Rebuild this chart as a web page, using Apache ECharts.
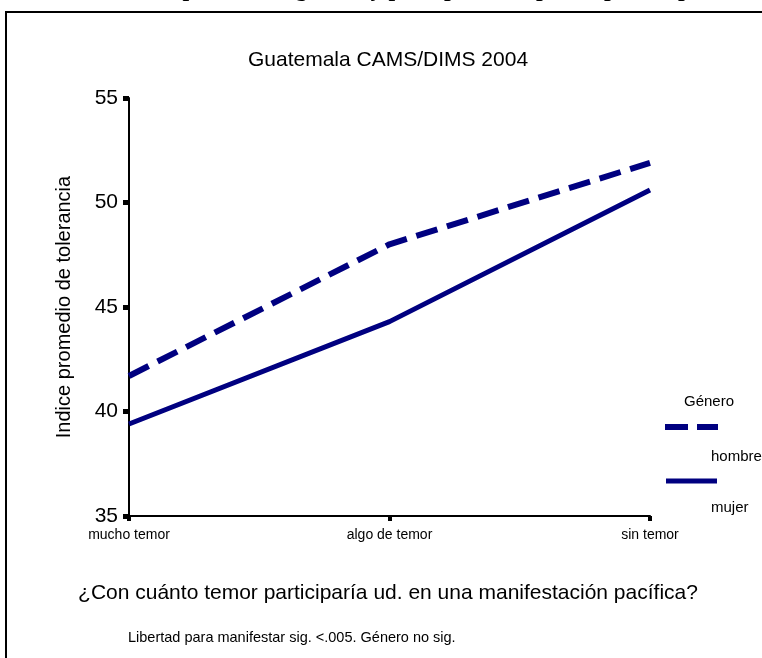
<!DOCTYPE html>
<html>
<head>
<meta charset="utf-8">
<script src="https://cdn.jsdelivr.net/npm/echarts@6/dist/echarts.min.js"></script>
<style>
  html, body { margin: 0; padding: 0; background: #ffffff; }
  #chart { width: 762px; height: 658px; }
</style>
</head>
<body>
<div id="chart"></div>
<script>
// categorias del eje x
const categories = ['mucho temor', 'algo de temor', 'sin temor']
// indice promedio de tolerancia por genero
const hombre = [41.7, 48.0, 51.9]
const mujer = [39.4, 44.3, 50.6]
const yTicks = { min: 35, max: 55, interval: 5 }

const navy = '#000080'
const sans = 'Liberation Sans, Arial, sans-serif'
const narrow = 'Liberation Sans Narrow, Liberation Sans, Arial, sans-serif'

const chart = echarts.init(document.getElementById('chart'))
chart.setOption({
  backgroundColor: '#ffffff',
  animation: false,
  grid: {
    left: 129,
    right: 112,
    top: 98,
    bottom: 142
  },
  xAxis: {
    type: 'category',
    boundaryGap: false,
    data: categories,
    axisLine: { lineStyle: { color: '#000', width: 2 } },
    axisTick: { length: 5, lineStyle: { color: '#000', width: 4 } },
    axisLabel: {
      color: '#000',
      fontFamily: narrow,
      fontSize: 14,
      margin: 12
    },
    splitLine: { show: false }
  },
  yAxis: {
    type: 'value',
    min: yTicks.min,
    max: yTicks.max,
    interval: yTicks.interval,
    name: 'Indice promedio de tolerancia',
    nameLocation: 'middle',
    nameGap: 55,
    nameTextStyle: { color: '#000', fontFamily: sans, fontSize: 20 },
    axisLine: { show: true, lineStyle: { color: '#000', width: 2 } },
    axisTick: { show: true, length: 6, lineStyle: { color: '#000', width: 5 } },
    axisLabel: {
      color: '#000',
      fontFamily: sans,
      fontSize: 21,
      margin: 11
    },
    splitLine: { show: false }
  },
  series: [
    {
      name: 'hombre',
      type: 'line',
      data: hombre,
      symbol: 'none',
      lineStyle: { color: navy, width: 6, type: [22, 10], cap: 'butt' }
    },
    {
      name: 'mujer',
      type: 'line',
      data: mujer,
      symbol: 'none',
      lineStyle: { color: navy, width: 5, type: 'solid' }
    }
  ],
  graphic: [
    // titulo cortado arriba
    {
      type: 'text',
      x: 68,
      y: 2,
      style: {
        text: 'Tolerancia por temor, género y percepción de participación pacífica',
        fill: '#000',
        font: 'bold 24px "Liberation Serif", "Times New Roman", serif',
        textVerticalAlign: 'bottom'
      }
    },
    // marco
    {
      type: 'rect',
      shape: { x: 6, y: 12, width: 800, height: 700 },
      style: { fill: 'none', stroke: '#000', lineWidth: 2 }
    },
    {
      type: 'text',
      x: 388,
      y: 60,
      style: {
        text: 'Guatemala CAMS/DIMS 2004',
        fill: '#000',
        font: '21px ' + sans,
        textAlign: 'center',
        textVerticalAlign: 'middle'
      }
    },
    // leyenda
    {
      type: 'text',
      x: 684,
      y: 402,
      style: { text: 'Género', fill: '#000', font: '15px ' + narrow, textVerticalAlign: 'middle' }
    },
    {
      type: 'line',
      shape: { x1: 665, y1: 427, x2: 718, y2: 427 },
      style: { stroke: navy, lineWidth: 6, lineDash: [23, 9] }
    },
    {
      type: 'text',
      x: 711,
      y: 457,
      style: { text: 'hombre', fill: '#000', font: '15px ' + narrow, textVerticalAlign: 'middle' }
    },
    {
      type: 'line',
      shape: { x1: 666, y1: 481, x2: 717, y2: 481 },
      style: { stroke: navy, lineWidth: 5 }
    },
    {
      type: 'text',
      x: 711,
      y: 508,
      style: { text: 'mujer', fill: '#000', font: '15px ' + narrow, textVerticalAlign: 'middle' }
    },
    // textos de abajo
    {
      type: 'text',
      x: 388,
      y: 593,
      style: {
        text: '¿Con cuánto temor participaría ud. en una manifestación pacífica?',
        fill: '#000',
        font: '21px ' + sans,
        textAlign: 'center',
        textVerticalAlign: 'middle'
      }
    },
    {
      type: 'text',
      x: 128,
      y: 638,
      style: {
        text: 'Libertad para manifestar sig. <.005. Género no sig.',
        fill: '#000',
        font: '14.5px ' + narrow,
        textVerticalAlign: 'middle'
      }
    }
  ]
})
</script>
</body>
</html>
